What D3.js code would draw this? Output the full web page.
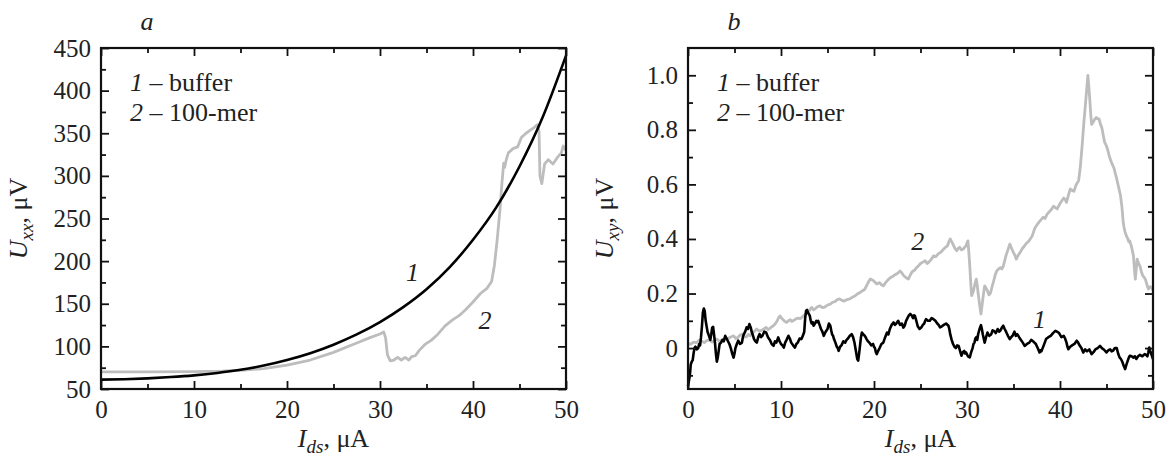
<!DOCTYPE html>
<html>
<head>
<meta charset="utf-8">
<script src="https://cdn.jsdelivr.net/npm/d3@7"></script>
<style>
body { margin: 0; background: #fff; }
</style>
</head>
<body>
<svg id="chart"></svg>
<script>
"use strict";

var width = 1172,
    height = 459;

var fontName = "Liberation Serif";

// x axis (shared): I_ds, uA
var xTicks = [0, 10, 20, 30, 40, 50];
var xMinor = [5, 15, 25, 35, 45];

// panel a: U_xx, uV
var uxxTicks = [50, 100, 150, 200, 250, 300, 350, 400, 450];
var uxxMinor = [75, 125, 175, 225, 275, 325, 375, 425];

// panel b: U_xy, uV
var uxyTicks = [0, 0.2, 0.4, 0.6, 0.8, 1.0];
var uxyMinor = [-0.1, 0.1, 0.3, 0.5, 0.7, 0.9];

var legendLabels = [["1", " \u2013 buffer"], ["2", " \u2013 100-mer"]];

// curve 1 of panel a (buffer)
var uxxBuffer = [
    [0, 61], [2.5, 61.5], [5, 62.5], [7.5, 64], [10, 66], [12.5, 68.8], [15, 72.5],
    [17.5, 77.5], [20, 84], [22.5, 92], [25, 102], [27.5, 114], [30, 128.5],
    [32.5, 146], [35, 167], [37.5, 193], [40, 225], [42.5, 263], [45, 311],
    [47.5, 369], [50, 441]
];

// curve 2 of panel a (100-mer)
var uxxMer = [
    [0, 70], [5, 70], [10, 70.3], [13, 71], [15, 72], [17.5, 74], [20, 78], [22.5, 84],
    [25, 93], [27.5, 104], [29, 110.5], [30, 114.5], [30.4, 117], [30.6, 110], [30.8, 90],
    [31.1, 83], [31.5, 84], [31.9, 87], [32.3, 84], [32.7, 87], [33.1, 84], [33.4, 88],
    [33.8, 89], [34.2, 95], [34.8, 102], [35.5, 107], [36.2, 114], [37, 124], [37.8, 131],
    [38.5, 136], [39.2, 143], [40, 152], [40.8, 162], [41.5, 168], [42, 176], [42.3, 195],
    [42.6, 225], [42.9, 260], [43.1, 290], [43.3, 315], [43.4, 310], [43.6, 320],
    [43.8, 327], [44.3, 332], [44.8, 334], [45.2, 345], [45.7, 350], [46.2, 354],
    [46.6, 357], [46.9, 360], [47.1, 352], [47.2, 300], [47.4, 291], [47.7, 314],
    [48.1, 319], [48.6, 314], [49.1, 322], [49.5, 327], [49.7, 335], [50, 330]
];

// curve 1 of panel b (buffer)
var uxyBuffer = [
    [0, -0.14], [0.1, -0.12], [0.2, -0.1], [0.3, -0.06], [0.4, -0.05], [0.5, -0.045], [0.6, -0.02],
    [0.7, 0.0], [0.8, 0.005], [0.95, -0.005], [1.1, 0.0], [1.2, 0.015], [1.3, 0.01], [1.4, 0.04],
    [1.5, 0.08], [1.6, 0.13], [1.7, 0.145], [1.8, 0.135], [1.9, 0.1], [2.0, 0.08], [2.1, 0.06],
    [2.2, 0.05], [2.3, 0.04], [2.4, 0.03], [2.5, 0.05], [2.6, 0.075], [2.7, 0.078], [2.8, 0.05],
    [2.9, 0.02], [3.0, -0.02], [3.1, -0.05], [3.2, -0.035], [3.3, -0.01], [3.4, 0.015],
    [3.55, 0.02], [3.7, 0.03], [3.85, 0.025], [4.0, 0.045], [4.15, 0.035], [4.3, 0.025],
    [4.45, 0.015], [4.6, 0.0], [4.75, -0.02], [4.9, -0.035], [5.0, -0.02], [5.1, 0.0],
    [5.25, 0.015], [5.4, 0.027], [5.6, 0.015], [5.8, 0.02], [5.9, 0.04], [6.0, 0.05],
    [6.15, 0.06], [6.3, 0.076], [6.45, 0.07], [6.6, 0.088], [6.75, 0.075], [6.85, 0.06],
    [7.0, 0.045], [7.1, 0.033], [7.25, 0.025], [7.4, 0.02], [7.55, 0.04], [7.7, 0.051],
    [7.85, 0.04], [8.0, 0.045], [8.2, 0.06], [8.4, 0.057], [8.6, 0.04], [8.8, 0.03],
    [9.0, 0.015], [9.2, 0.008], [9.35, 0.025], [9.5, 0.02], [9.7, 0.039], [9.85, 0.025],
    [10.0, 0.015], [10.15, 0.01], [10.3, 0.002], [10.45, 0.02], [10.6, 0.03], [10.8, 0.045],
    [10.95, 0.035], [11.1, 0.02], [11.3, 0.01], [11.5, 0.002], [11.65, 0.015], [11.8, 0.02],
    [12.0, 0.035], [12.2, 0.033], [12.35, 0.045], [12.5, 0.06], [12.6, 0.11], [12.7, 0.137],
    [12.8, 0.14], [12.9, 0.13], [13.0, 0.125], [13.1, 0.118], [13.2, 0.1], [13.3, 0.09],
    [13.4, 0.095], [13.5, 0.082], [13.65, 0.09], [13.8, 0.1], [13.9, 0.095], [14.0, 0.1],
    [14.15, 0.085], [14.3, 0.07], [14.45, 0.06], [14.6, 0.045], [14.8, 0.06], [15.0, 0.07],
    [15.15, 0.09], [15.3, 0.082], [15.4, 0.065], [15.5, 0.05], [15.6, 0.045], [15.7, 0.033],
    [15.85, 0.02], [16.0, 0.005], [16.1, 0.0], [16.2, -0.01], [16.35, 0.005], [16.5, 0.01],
    [16.7, 0.025], [16.9, 0.02], [17.05, 0.03], [17.2, 0.035], [17.4, 0.045], [17.6, 0.051],
    [17.75, 0.04], [17.9, 0.02], [18.0, 0.0], [18.1, -0.02], [18.2, -0.04], [18.3, -0.046],
    [18.4, -0.02], [18.5, 0.01], [18.6, 0.04], [18.7, 0.057], [18.85, 0.05], [19.0, 0.045],
    [19.1, 0.04], [19.2, 0.033], [19.35, 0.025], [19.5, 0.02], [19.7, 0.01], [19.9, 0.015],
    [20.0, 0.005], [20.1, 0.0], [20.2, -0.015], [20.3, -0.022], [20.45, -0.01], [20.6, 0.0],
    [20.8, 0.015], [21.0, 0.02], [21.2, 0.04], [21.4, 0.057], [21.55, 0.05], [21.7, 0.07],
    [21.9, 0.085], [22.1, 0.094], [22.25, 0.085], [22.4, 0.09], [22.6, 0.1], [22.8, 0.085],
    [23.0, 0.09], [23.15, 0.075], [23.3, 0.082], [23.45, 0.1], [23.6, 0.11], [23.75, 0.12],
    [23.9, 0.125], [24.05, 0.12], [24.2, 0.11], [24.3, 0.12], [24.4, 0.118], [24.55, 0.1],
    [24.7, 0.08], [24.9, 0.07], [25.1, 0.076], [25.25, 0.085], [25.4, 0.09], [25.5, 0.1],
    [25.6, 0.106], [25.8, 0.1], [26.0, 0.1], [26.2, 0.11], [26.4, 0.106], [26.6, 0.1],
    [26.8, 0.09], [26.95, 0.085], [27.1, 0.076], [27.3, 0.08], [27.5, 0.085], [27.75, 0.09],
    [28.0, 0.082], [28.1, 0.07], [28.2, 0.05], [28.35, 0.03], [28.5, 0.015], [28.65, 0.005],
    [28.8, 0.0], [28.95, 0.01], [29.1, 0.008], [29.25, -0.01], [29.4, -0.028], [29.55, -0.015],
    [29.7, -0.01], [29.8, -0.02], [29.9, -0.016], [30.1, -0.03], [30.3, -0.034], [30.45, -0.015],
    [30.6, 0.0], [30.7, 0.015], [30.8, 0.02], [30.9, 0.035], [31.0, 0.04], [31.1, 0.03],
    [31.2, 0.051], [31.35, 0.07], [31.5, 0.084], [31.6, 0.07], [31.7, 0.05], [31.8, 0.035],
    [31.9, 0.02], [32.05, 0.04], [32.2, 0.057], [32.4, 0.045], [32.6, 0.05], [32.75, 0.065],
    [32.9, 0.063], [33.1, 0.055], [33.3, 0.07], [33.45, 0.06], [33.6, 0.065], [33.75, 0.075],
    [33.9, 0.082], [34.05, 0.07], [34.2, 0.06], [34.4, 0.045], [34.6, 0.033], [34.75, 0.04],
    [34.9, 0.045], [35.1, 0.06], [35.25, 0.045], [35.4, 0.051], [35.6, 0.04], [35.8, 0.03],
    [36.0, 0.02], [36.2, 0.008], [36.45, 0.015], [36.7, 0.02], [36.9, 0.03], [37.1, 0.025],
    [37.25, 0.02], [37.4, 0.015], [37.6, 0.0], [37.8, -0.016], [37.9, -0.008], [38.0, -0.012],
    [38.25, 0.01], [38.5, 0.033], [38.75, 0.04], [39.0, 0.045], [39.25, 0.055], [39.5, 0.063],
    [39.7, 0.06], [39.9, 0.055], [40.15, 0.04], [40.4, 0.045], [40.55, 0.035], [40.7, 0.02],
    [40.8, 0.005], [40.9, -0.004], [41.1, 0.005], [41.3, 0.01], [41.55, 0.015], [41.8, 0.027],
    [41.95, 0.02], [42.1, 0.01], [42.3, 0.0], [42.5, -0.016], [42.7, -0.005], [42.9, -0.012],
    [43.15, -0.005], [43.4, -0.022], [43.6, -0.015], [43.8, -0.005], [44.05, 0.0], [44.3, 0.008],
    [44.5, 0.0], [44.7, -0.005], [44.85, -0.01], [45.0, -0.016], [45.2, -0.008], [45.4, -0.005],
    [45.55, -0.012], [45.7, -0.01], [45.9, 0.0], [46.1, 0.0], [46.25, -0.02], [46.4, -0.034],
    [46.55, -0.04], [46.7, -0.05], [46.85, -0.065], [47.0, -0.077], [47.15, -0.06], [47.3, -0.045],
    [47.4, -0.035], [47.5, -0.028], [47.7, -0.03], [47.9, -0.035], [48.05, -0.03], [48.2, -0.04],
    [48.4, -0.03], [48.6, -0.025], [48.85, -0.03], [49.1, -0.022], [49.25, -0.025], [49.4, -0.03],
    [49.5, -0.015], [49.6, 0.002], [49.7, -0.01], [49.8, -0.02], [49.9, -0.03], [50, -0.04]
];

// curve 2 of panel b (100-mer)
var uxyMer = [
    [0, 0.01], [0.15, 0.015], [0.3, 0.015], [0.6, 0.022], [0.9, 0.02], [1.2, 0.028], [1.5, 0.025],
    [1.75, 0.02], [2.0, 0.027], [2.3, 0.03], [2.6, 0.022], [2.85, 0.028], [3.1, 0.033],
    [3.35, 0.025], [3.6, 0.028], [3.9, 0.035], [4.2, 0.033], [4.55, 0.04], [4.9, 0.045],
    [5.15, 0.035], [5.4, 0.04], [5.6, 0.048], [5.8, 0.051], [6.05, 0.04], [6.3, 0.042],
    [6.5, 0.05], [6.7, 0.045], [6.9, 0.055], [7.1, 0.06], [7.25, 0.065], [7.4, 0.07],
    [7.65, 0.062], [7.9, 0.065], [8.15, 0.07], [8.4, 0.076], [8.6, 0.068], [8.8, 0.072],
    [9.0, 0.078], [9.2, 0.082], [9.4, 0.09], [9.6, 0.1], [9.75, 0.112], [9.9, 0.118],
    [10.05, 0.11], [10.2, 0.105], [10.4, 0.098], [10.6, 0.094], [10.8, 0.1], [11.0, 0.104],
    [11.15, 0.098], [11.3, 0.1], [11.55, 0.106], [11.8, 0.11], [12.1, 0.108], [12.4, 0.118],
    [12.65, 0.125], [12.9, 0.13], [13.1, 0.14], [13.3, 0.149], [13.5, 0.14], [13.7, 0.145],
    [13.95, 0.152], [14.2, 0.155], [14.45, 0.148], [14.7, 0.15], [15.0, 0.158], [15.3, 0.161],
    [15.55, 0.168], [15.8, 0.17], [16.05, 0.178], [16.3, 0.18], [16.55, 0.175], [16.8, 0.172],
    [17.1, 0.178], [17.4, 0.18], [17.65, 0.186], [17.9, 0.19], [18.2, 0.198], [18.5, 0.204],
    [18.75, 0.21], [19.0, 0.215], [19.15, 0.225], [19.3, 0.235], [19.45, 0.245], [19.6, 0.253],
    [19.8, 0.25], [20.0, 0.245], [20.3, 0.235], [20.6, 0.24], [20.8, 0.232], [21.0, 0.228],
    [21.25, 0.24], [21.5, 0.25], [21.75, 0.258], [22.0, 0.262], [22.2, 0.268], [22.4, 0.271],
    [22.6, 0.276], [22.8, 0.283], [23.0, 0.275], [23.2, 0.265], [23.45, 0.258], [23.7, 0.253],
    [23.9, 0.268], [24.1, 0.28], [24.35, 0.285], [24.6, 0.296], [24.8, 0.302], [25.0, 0.31],
    [25.25, 0.315], [25.5, 0.32], [25.7, 0.31], [25.9, 0.315], [26.15, 0.325], [26.4, 0.338],
    [26.65, 0.335], [26.9, 0.345], [27.2, 0.352], [27.5, 0.363], [27.7, 0.37], [27.9, 0.375],
    [28.05, 0.39], [28.2, 0.4], [28.35, 0.39], [28.5, 0.38], [28.7, 0.365], [28.9, 0.357],
    [29.05, 0.365], [29.2, 0.37], [29.4, 0.36], [29.6, 0.363], [29.75, 0.37], [29.9, 0.375],
    [30.0, 0.385], [30.1, 0.393], [30.2, 0.35], [30.3, 0.3], [30.4, 0.24], [30.5, 0.192],
    [30.6, 0.2], [30.7, 0.21], [30.85, 0.235], [31.0, 0.253], [31.1, 0.23], [31.2, 0.2],
    [31.35, 0.16], [31.5, 0.125], [31.6, 0.15], [31.7, 0.18], [31.8, 0.205], [31.9, 0.228],
    [32.05, 0.22], [32.2, 0.21], [32.35, 0.195], [32.5, 0.2], [32.7, 0.225], [32.9, 0.25],
    [33.05, 0.27], [33.2, 0.283], [33.4, 0.29], [33.6, 0.295], [33.75, 0.29], [33.9, 0.3],
    [34.05, 0.32], [34.2, 0.34], [34.4, 0.36], [34.6, 0.381], [34.8, 0.365], [35.0, 0.35],
    [35.15, 0.34], [35.3, 0.326], [35.5, 0.34], [35.7, 0.35], [35.95, 0.365], [36.2, 0.375],
    [36.4, 0.385], [36.6, 0.39], [36.8, 0.4], [37.0, 0.41], [37.15, 0.425], [37.3, 0.44],
    [37.5, 0.45], [37.7, 0.46], [37.95, 0.47], [38.2, 0.48], [38.4, 0.475], [38.6, 0.49],
    [38.8, 0.498], [39.0, 0.505], [39.15, 0.512], [39.3, 0.52], [39.5, 0.515], [39.7, 0.51],
    [39.85, 0.52], [40.0, 0.53], [40.2, 0.54], [40.4, 0.55], [40.55, 0.545], [40.7, 0.534],
    [40.9, 0.56], [41.1, 0.583], [41.3, 0.578], [41.5, 0.575], [41.75, 0.6], [42.0, 0.613],
    [42.1, 0.64], [42.2, 0.67], [42.3, 0.71], [42.4, 0.75], [42.55, 0.82], [42.7, 0.88],
    [42.85, 0.94], [43.0, 1.0], [43.1, 0.96], [43.2, 0.913], [43.3, 0.86], [43.4, 0.82],
    [43.5, 0.825], [43.6, 0.83], [43.75, 0.84], [43.9, 0.845], [44.05, 0.84], [44.2, 0.84],
    [44.35, 0.82], [44.5, 0.808], [44.65, 0.78], [44.8, 0.754], [44.95, 0.745], [45.1, 0.73],
    [45.25, 0.71], [45.4, 0.693], [45.6, 0.675], [45.8, 0.66], [45.95, 0.64], [46.1, 0.62],
    [46.3, 0.59], [46.5, 0.56], [46.65, 0.52], [46.8, 0.46], [46.9, 0.44], [47.0, 0.425],
    [47.15, 0.41], [47.3, 0.4], [47.4, 0.39], [47.5, 0.393], [47.7, 0.37], [47.9, 0.338],
    [48.0, 0.29], [48.1, 0.253], [48.2, 0.29], [48.3, 0.326], [48.45, 0.31], [48.6, 0.3],
    [48.75, 0.28], [48.9, 0.265], [49.05, 0.26], [49.2, 0.25], [49.35, 0.232], [49.5, 0.216],
    [49.7, 0.225], [49.9, 0.22], [50, 0.21]
];

var svg = d3.select("#chart")
    .attr("width", width)
    .attr("height", height)
    .attr("font-family", fontName);

var plotTop = 48,
    plotBottom = 389;

function fmtUxy(d) {
    return d === 0 ? "0" : d.toFixed(1);
}

// ticks point inward on all four sides; labels only left and bottom
function frameAxes(g, x, y, yTicks, yMinor, yFormat) {
    var left = x.range()[0], right = x.range()[1];
    var makers = [d3.axisBottom, d3.axisTop, d3.axisLeft, d3.axisRight];
    var scales = [x, x, y, y];
    var shifts = [
        "translate(0," + plotBottom + ")",
        "translate(0," + plotTop + ")",
        "translate(" + left + ",0)",
        "translate(" + right + ",0)"
    ];
    makers.forEach(function (make, i) {
        var isX = i < 2;
        var major = make(scales[i])
            .tickValues(isX ? xTicks : yTicks)
            .tickSize(-8)
            .tickPadding(i === 0 ? 11 : 10);
        if (i === 1 || i === 3) major.tickFormat("");
        else if (i === 2) major.tickFormat(yFormat);
        var ag = g.append("g").attr("transform", shifts[i]).call(major);
        ag.attr("font-size", 25).attr("font-family", fontName);
        ag.select(".domain").remove();
        ag.selectAll("line").attr("stroke", "#111").attr("stroke-width", 1.8);
        ag.selectAll("text").attr("fill", "#222");

        var minorAxis = make(scales[i])
            .tickValues(isX ? xMinor : yMinor)
            .tickSize(-5)
            .tickFormat("");
        var mg = g.append("g").attr("transform", shifts[i]).call(minorAxis);
        mg.select(".domain").remove();
        mg.selectAll("line").attr("stroke", "#111").attr("stroke-width", 1.8);
    });

    g.append("rect")
        .attr("x", left)
        .attr("y", plotTop)
        .attr("width", right - left)
        .attr("height", plotBottom - plotTop)
        .attr("fill", "none")
        .attr("stroke", "#111")
        .attr("stroke-width", 2.2);
}

function label(g, size) {
    return g.append("text")
        .attr("font-family", fontName)
        .attr("font-size", size || 26)
        .attr("fill", "#222");
}

function drawPanel(p) {
    var g = svg.append("g");
    var x = d3.scaleLinear().domain([0, 50]).range([p.left, p.right]);
    var y = d3.scaleLinear().domain(p.yDomain).range([plotBottom, plotTop]);

    var line = d3.line()
        .x(function (d) { return x(d[0]); })
        .y(function (d) { return y(d[1]); })
        .curve(p.smooth ? d3.curveMonotoneX : d3.curveLinear);

    g.append("path")
        .datum(p.gray)
        .attr("d", d3.line().x(function (d) { return x(d[0]); }).y(function (d) { return y(d[1]); }))
        .attr("fill", "none")
        .attr("stroke", "#bdbdbd")
        .attr("stroke-width", 2.8)
        .attr("stroke-linejoin", "round");

    g.append("path")
        .datum(p.black)
        .attr("d", line)
        .attr("fill", "none")
        .attr("stroke", "#000")
        .attr("stroke-width", 2.6)
        .attr("stroke-linejoin", "round");

    frameAxes(g, x, y, p.yTicks, p.yMinor, p.yFormat);

    // panel letter
    label(g)
        .attr("x", p.letterX)
        .attr("y", 30)
        .attr("text-anchor", "middle")
        .attr("font-style", "italic")
        .text(p.letter);

    // legend
    legendLabels.forEach(function (l, i) {
        var t = label(g)
            .attr("x", p.left + 29)
            .attr("y", 91 + i * 29.5);
        t.append("tspan").attr("font-style", "italic").text(l[0]);
        t.append("tspan").text(l[1]);
    });

    // curve numbers
    p.curveLabels.forEach(function (c) {
        label(g)
            .attr("x", x(c[1]))
            .attr("y", y(c[2]))
            .attr("text-anchor", "middle")
            .attr("dy", "0.35em")
            .attr("font-style", "italic")
            .text(c[0]);
    });

    // x label
    var xl = label(g)
        .attr("x", (p.left + p.right) / 2)
        .attr("y", 447)
        .attr("text-anchor", "middle");
    xl.append("tspan").attr("font-style", "italic").text("I");
    xl.append("tspan").attr("font-style", "italic").attr("font-size", 19).attr("dy", 6).text("ds");
    xl.append("tspan").attr("dy", -6).text(", \u03bcA");

    // y label
    var yl = label(g)
        .attr("transform", "translate(" + p.yLabelX + "," + ((plotTop + plotBottom) / 2) + ") rotate(-90)")
        .attr("text-anchor", "middle");
    yl.append("tspan").attr("font-style", "italic").text("U");
    yl.append("tspan").attr("font-style", "italic").attr("font-size", 19).attr("dy", 6).text(p.ySub);
    yl.append("tspan").attr("dy", -6).text(", \u03bcV");
}

drawPanel({
    left: 101, right: 566,
    yDomain: [50, 450],
    yTicks: uxxTicks, yMinor: uxxMinor,
    yFormat: function (d) { return d; },
    black: uxxBuffer, gray: uxxMer, smooth: true,
    letter: "a", letterX: 147,
    curveLabels: [["1", 33.5, 187], ["2", 41.3, 131]],
    yLabelX: 27, ySub: "xx"
});

drawPanel({
    left: 688, right: 1153,
    yDomain: [-0.15, 1.1],
    yTicks: uxyTicks, yMinor: uxyMinor,
    yFormat: fmtUxy,
    black: uxyBuffer, gray: uxyMer, smooth: false,
    letter: "b", letterX: 734,
    curveLabels: [["2", 24.7, 0.392], ["1", 37.8, 0.106]],
    yLabelX: 613, ySub: "xy"
});
</script>
</body>
</html>
